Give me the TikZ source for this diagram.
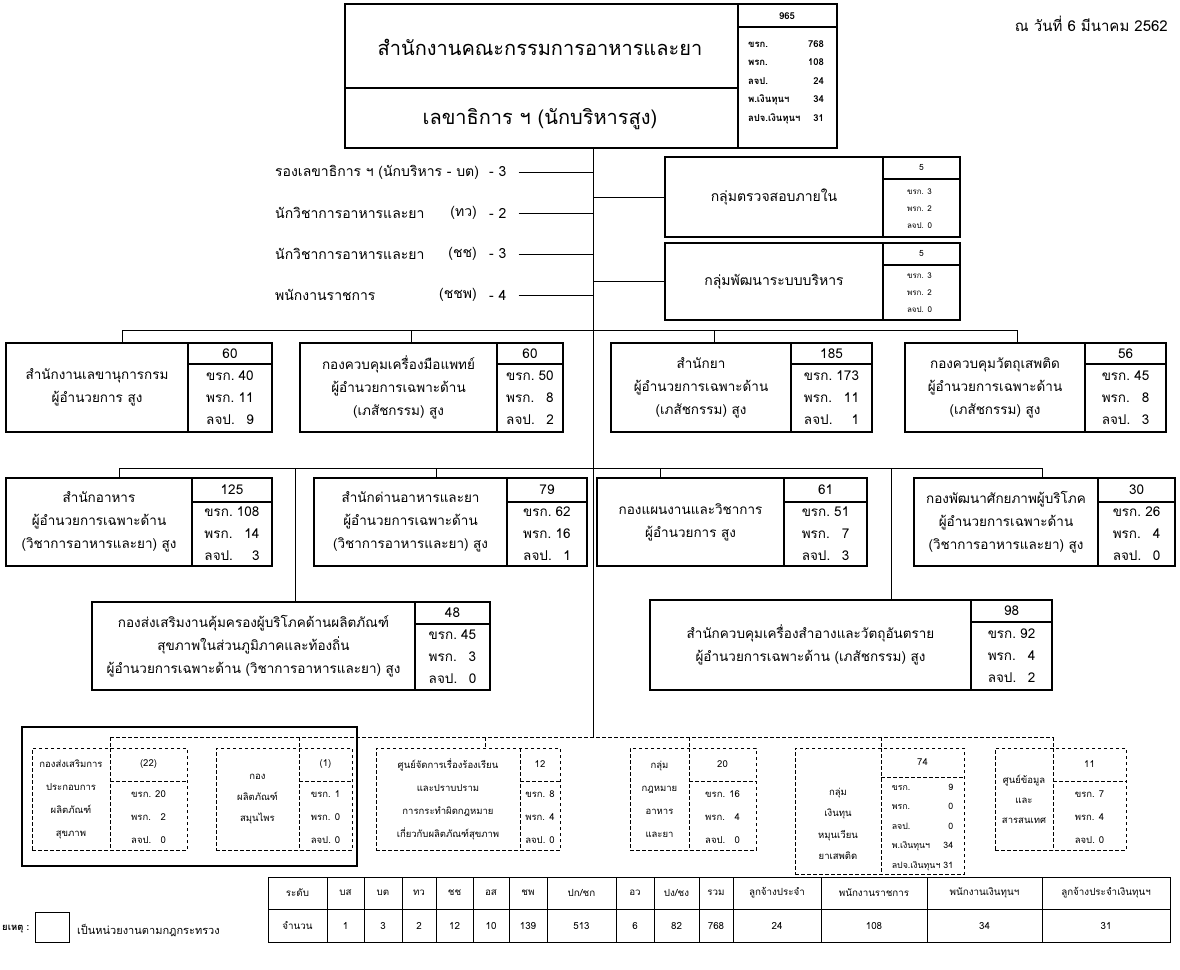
\documentclass[tikz,border=0pt]{standalone}
\usepackage{fontspec}
\setmainfont[Script=Thai]{Loma}
\usetikzlibrary{fit}
\newcommand\nr[1]{\begin{tabular}{@{}l@{\hspace{4pt}}r@{}}#1\end{tabular}}
\tikzset{
  boxframe/.style={draw, line width=1.1pt, inner sep=0pt},
  innerline/.style={line width=1.1pt},
  thickframe/.style={draw, line width=2.4pt, inner sep=0pt},
  dframe/.style={draw, line width=0.9pt, dash pattern=on 3.5pt off 2.5pt, inner sep=0pt},
  dline/.style={line width=0.9pt, dash pattern=on 3.5pt off 2.5pt},
  wire/.style={line width=1pt},
  nametext/.style={align=center, inner sep=0pt, font=\fontsize{13.5}{23}\selectfont},
  headtext/.style={inner sep=0pt, font=\fontsize{13.5}{16}\selectfont},
  rowtext/.style={inner sep=0pt, font=\fontsize{13.5}{16}\selectfont\def\arraystretch{1.4}},
  titletext/.style={inner sep=0pt, font=\fontsize{20}{24}\selectfont},
  tbnum/.style={inner sep=0pt, font=\bfseries\fontsize{9.5}{11}\selectfont},
  tbrows/.style={align=left, inner sep=0pt, text width=76pt, font=\bfseries\fontsize{9.5}{18.5}\selectfont},
  staff/.style={inner sep=0pt, font=\fontsize{14}{16}\selectfont},
  grows/.style={inner sep=0pt, font=\fontsize{8}{10}\selectfont\def\arraystretch{1.7}},
  dname/.style={align=center, inner sep=0pt, font=\fontsize{9.5}{23}\selectfont},
  dhead/.style={inner sep=0pt, font=\fontsize{9.5}{11}\selectfont},
  drow/.style={inner sep=0pt, font=\fontsize{9.5}{11}\selectfont\def\arraystretch{2.09}},
  tcell/.style={inner sep=0pt, font=\fontsize{9.8}{12}\selectfont},
  tline/.style={line width=0.9pt},
  datetext/.style={inner sep=0pt, font=\fontsize{15}{17}\selectfont},
  legtext/.style={inner sep=0pt, font=\fontsize{11}{13}\selectfont},
}
\newcommand\ubox[9]{%
  \node[boxframe, fit={(#2,#3)(#4,#5)}] (#1) {};
  \draw[innerline] (#6,#3) -- (#6,#5) (#6,#7) -- (#4,#7);
  \node[nametext] (#1-name) at ({(#2+#6)/2},{(#3+#5)/2}) {#8};
  \node[headtext] (#1-head) at ({(#6+#4)/2},{(#3+#7)/2}) {#9};
  \coordinate (#1-rows) at ({(#6+#4)/2},{(#7+#5)/2});
}
\newcommand\dbox[8]{%
  \node[dframe, fit={(#2,#3)(#4,#5)}] (#1) {};
  \draw[dline] (#6,#3) -- (#6,#5) (#6,#7) -- (#4,#7);
  \node[dhead] (#1-head) at ({(#6+#4)/2},{(#3+#7)/2}) {#8};
  \coordinate (#1-namec) at ({(#2+#6)/2},{(#3+#5)/2});
  \coordinate (#1-rows) at ({(#6+#4)/2},{(#7+#5)/2});
}
\begin{document}
\begin{tikzpicture}[x=1pt,y=-1pt]
\useasboundingbox (0,0) rectangle (1180,969);
\fill[white] (0,0) rectangle (1180,969);

% ---------- top box ----------
\node[boxframe, fit={(345,4)(837,148)}] (tb) {};
\draw[innerline] (738,4) -- (738,148) (345,88) -- (738,88) (738,27) -- (837,27);
\node[titletext] (tbt1) at (540,47) {สำนักงานคณะกรรมการอาหารและยา};
\node[titletext] (tbt2) at (540,119) {เลขาธิการ ฯ (นักบริหารสูง)};
\node[tbnum] (tbhead) at (787,16) {965};
\node[tbrows] (tbrows) at (786,82) {ขรก.\hfill 768\\พรก.\hfill 108\\ลจป.\hfill 24\\พ.เงินทุนฯ\hfill 34\\ลปจ.เงินทุนฯ\hfill 31};

\node[datetext, anchor=east] (date) at (1168,24) {ณ วันที่ 6 มีนาคม 2562};

% ---------- trunk ----------
\coordinate (trunkTop) at (593,148);
\coordinate (trunkBot) at (593,737);
\draw[wire] (trunkTop) -- (trunkBot);

% ---------- staff ----------
\node[staff, anchor=west] (st1) at (275,172) {รองเลขาธิการ ฯ (นักบริหาร - บต)};
\node[staff, anchor=west] (st1n) at (489,172) {- 3};
\node[staff, anchor=west] (st2) at (275,213) {นักวิชาการอาหารและยา};
\node[staff, anchor=east] (st2a) at (477,213) {(ทว)};
\node[staff, anchor=west] (st2n) at (489,213) {- 2};
\node[staff, anchor=west] (st3) at (275,254) {นักวิชาการอาหารและยา};
\node[staff, anchor=east] (st3a) at (477,254) {(ชช)};
\node[staff, anchor=west] (st3n) at (489,254) {- 3};
\node[staff, anchor=west] (st4) at (275,295) {พนักงานราชการ};
\node[staff, anchor=east] (st4a) at (477,295) {(ชชพ)};
\node[staff, anchor=west] (st4n) at (489,295) {- 4};
\foreach \s in {st1n,st2n,st3n,st4n}
  \draw[wire] ([xshift=12pt]\s.east) -- (\s -| trunkTop);

% ---------- groups ----------
\begin{scope}[nametext/.style={align=center, inner sep=0pt, font=\fontsize{14}{17}\selectfont},
              headtext/.style={inner sep=0pt, font=\fontsize{8.5}{10}\selectfont}]
\ubox{ga}{665}{157}{960}{237}{883}{179}{กลุ่มตรวจสอบภายใน}{5}
\ubox{gb}{665}{243}{960}{320}{883}{265}{กลุ่มพัฒนาระบบบริหาร}{5}
\end{scope}
\node[grows] (ga-r) at (ga-rows) {\nr{ขรก. 3\\พรก. 2\\ลจป. 0}};
\node[grows] (gb-r) at (gb-rows) {\nr{ขรก. 3\\พรก. 2\\ลจป. 0}};
\draw[wire] (ga.west) -- (ga.west -| trunkTop);
\draw[wire] (gb.west) -- (gb.west -| trunkTop);

% ---------- row 1 ----------
\ubox{b1}{6}{343}{272}{432}{188}{364}{สำนักงานเลขานุการกรม\\ผู้อำนวยการ สูง}{60}
\node[rowtext] (b1-r) at (b1-rows) {\nr{ขรก. & 40\\พรก. & 11\\ลจป. & 9}};
\ubox{b2}{300}{343}{563}{432}{497}{364}{กองควบคุมเครื่องมือแพทย์\\ผู้อำนวยการเฉพาะด้าน\\(เภสัชกรรม) สูง}{60}
\node[rowtext] (b2-r) at (b2-rows) {\nr{ขรก. & 50\\พรก. & 8\\ลจป. & 2}};
\ubox{b3}{611}{343}{872}{432}{791}{364}{สำนักยา\\ผู้อำนวยการเฉพาะด้าน\\(เภสัชกรรม) สูง}{185}
\node[rowtext] (b3-r) at (b3-rows) {\nr{ขรก. & 173\\พรก. & 11\\ลจป. & 1}};
\ubox{b4}{905}{343}{1166}{432}{1085}{364}{กองควบคุมวัตถุเสพติด\\ผู้อำนวยการเฉพาะด้าน\\(เภสัชกรรม) สูง}{56}
\node[rowtext] (b4-r) at (b4-rows) {\nr{ขรก. & 45\\พรก. & 8\\ลจป. & 3}};

\coordinate (r1L) at (122,330);
\coordinate (r1R) at (1017,330);
\coordinate (r1b) at (411,330);
\coordinate (r1c) at (714,330);
\draw[wire] (r1L) -- (r1R);
\draw[wire] (r1L) -- (r1L |- b1.north);
\draw[wire] (r1b) -- (r1b |- b2.north);
\draw[wire] (r1c) -- (r1c |- b3.north);
\draw[wire] (r1R) -- (r1R |- b4.north);

% ---------- row 2 ----------
\ubox{c1}{6}{478}{272}{566}{192}{502}{สำนักอาหาร\\ผู้อำนวยการเฉพาะด้าน\\(วิชาการอาหารและยา) สูง}{125}
\node[rowtext] (c1-r) at (c1-rows) {\nr{ขรก. & 108\\พรก. & 14\\ลจป. & 3}};
\ubox{c2}{314}{478}{587}{566}{507}{502}{สำนักด่านอาหารและยา\\ผู้อำนวยการเฉพาะด้าน\\(วิชาการอาหารและยา) สูง}{79}
\node[rowtext] (c2-r) at (c2-rows) {\nr{ขรก. & 62\\พรก. & 16\\ลจป. & 1}};
\ubox{c3}{597}{478}{867}{566}{784}{502}{กองแผนงานและวิชาการ\\ผู้อำนวยการ สูง}{61}
\node[rowtext] (c3-r) at (c3-rows) {\nr{ขรก. & 51\\พรก. & 7\\ลจป. & 3}};
\ubox{c4}{914}{478}{1175}{566}{1098}{502}{กองพัฒนาศักยภาพผู้บริโภค\\ผู้อำนวยการเฉพาะด้าน\\(วิชาการอาหารและยา) สูง}{30}
\node[rowtext] (c4-r) at (c4-rows) {\nr{ขรก. & 26\\พรก. & 4\\ลจป. & 0}};

\coordinate (r2L) at (119,468);
\coordinate (r2R) at (1042,468);
\coordinate (r2b) at (436,468);
\coordinate (r2c) at (660,468);
\coordinate (r2v1) at (295,468);
\coordinate (r2v2) at (891,468);
\draw[wire] (r2L) -- (r2R);
\draw[wire] (r2L) -- (r2L |- c1.north);
\draw[wire] (r2b) -- (r2b |- c2.north);
\draw[wire] (r2c) -- (r2c |- c3.north);
\draw[wire] (r2R) -- (r2R |- c4.north);

% ---------- row 3 ----------
\ubox{d1}{92}{602}{490}{690}{415}{624}{กองส่งเสริมงานคุ้มครองผู้บริโภคด้านผลิตภัณฑ์\\สุขภาพในส่วนภูมิภาคและท้องถิ่น\\ผู้อำนวยการเฉพาะด้าน (วิชาการอาหารและยา) สูง}{48}
\node[rowtext] (d1-r) at (d1-rows) {\nr{ขรก. & 45\\พรก. & 3\\ลจป. & 0}};
\ubox{d2}{650}{600}{1052}{690}{971}{622}{สำนักควบคุมเครื่องสำอางและวัตถุอันตราย\\ผู้อำนวยการเฉพาะด้าน (เภสัชกรรม) สูง}{98}
\node[rowtext] (d2-r) at (d2-rows) {\nr{ขรก. & 92\\พรก. & 4\\ลจป. & 2}};
\draw[wire] (r2v1) -- (r2v1 |- d1.north);
\draw[wire] (r2v2) -- (r2v2 |- d2.north);

% ---------- dashed units ----------
\node[thickframe, fit={(22,727)(357,866)}] (grp) {};
\dbox{e1}{32}{748}{187}{850}{110}{781}{(22)}
\node[dname] (e1-name) at (e1-namec) {กองส่งเสริมการ\\ประกอบการ\\ผลิตภัณฑ์\\สุขภาพ};
\node[drow] (e1-r) at (e1-rows) {\nr{ขรก. & 20\\พรก. & 2\\ลจป. & 0}};
\dbox{e2}{216}{748}{352}{850}{299}{781}{(1)}
\node[dname, font=\fontsize{9.5}{21}\selectfont] (e2-name) at (e2-namec) {กอง\\ผลิตภัณฑ์\\สมุนไพร};
\node[drow] (e2-r) at (e2-rows) {\nr{ขรก. & 1\\พรก. & 0\\ลจป. & 0}};
\dbox{e3}{376}{748}{560}{850}{520}{781}{12}
\node[dname] (e3-name) at (e3-namec) {ศูนย์จัดการเรื่องร้องเรียน\\และปราบปราม\\การกระทำผิดกฎหมาย\\เกี่ยวกับผลิตภัณฑ์สุขภาพ};
\node[drow] (e3-r) at (e3-rows) {\nr{ขรก. & 8\\พรก. & 4\\ลจป. & 0}};
\dbox{e4}{630}{748}{756}{850}{689}{781}{20}
\node[dname] (e4-name) at (e4-namec) {กลุ่ม\\กฎหมาย\\อาหาร\\และยา};
\node[drow] (e4-r) at (e4-rows) {\nr{ขรก. & 16\\พรก. & 4\\ลจป. & 0}};
\dbox{e5}{795}{748}{964}{874}{881}{777}{74}
\node[dname, font=\fontsize{9.5}{21.5}\selectfont] (e5-name) at ([yshift=-13pt]e5-namec) {กลุ่ม\\เงินทุน\\หมุนเวียน\\ยาเสพติด};
\node[drow, font=\fontsize{8.8}{11}\selectfont\def\arraystretch{1.77}] (e5-r) at (e5-rows) {\begin{tabular}{@{}l@{\hspace{3pt}}r@{}}ขรก. & 9\\พรก. & 0\\ลจป. & 0\\พ.เงินทุนฯ & 34\\ลปจ.เงินทุนฯ & 31\end{tabular}};
\dbox{e6}{995}{748}{1126}{850}{1053}{781}{11}
\node[dname, font=\fontsize{9.5}{20}\selectfont] (e6-name) at (e6-namec) {ศูนย์ข้อมูล\\และ\\สารสนเทศ};
\node[drow] (e6-r) at (e6-rows) {\nr{ขรก. & 7\\พรก. & 4\\ลจป. & 0}};

\coordinate (dL) at (110,737);
\coordinate (dR) at (1053,737);
\draw[dline] (dL) -- (dR);
\foreach \e/\xx in {e1/110,e2/299,e3/485,e4/689,e5/881,e6/1053}{
  \coordinate (tk\e) at (\xx,737);
  \draw[dline] (tk\e) -- (tk\e |- \e.north);
}

% ---------- table ----------
\draw[tline] (268,877) rectangle (1170,942);
\draw[tline] (268,909) -- (1170,909);
\foreach \xx in {327,364,402,436,473,509,547,616,654,699,733,821,927,1042}
  \draw[tline] (\xx,877) -- (\xx,942);
\foreach \a/\b/\h/\v [count=\i] in {268/327/ระดับ/จำนวน, 327/364/บส/1, 364/402/บต/3, 402/436/ทว/2, 436/473/ชช/12, 473/509/อส/10, 509/547/ชพ/139, 547/616/{ปก/ชก}/513, 616/654/อว/6, 654/699/{ปง/ชง}/82, 699/733/รวม/768, 733/821/ลูกจ้างประจำ/24, 821/927/พนักงานราชการ/108, 927/1042/พนักงานเงินทุนฯ/34, 1042/1170/ลูกจ้างประจำเงินทุนฯ/31}{
  \node[tcell] (th\i) at ({(\a+\b)/2},893) {\h};
  \node[tcell] (tv\i) at ({(\a+\b)/2},926) {\v};
}

% ---------- legend ----------
\node[legtext, font=\bfseries\fontsize{9.5}{12}\selectfont, anchor=west] (legl) at (2,929) {ยเหตุ :};
\node[draw, line width=0.9pt, minimum width=34pt, minimum height=30pt, inner sep=0pt] (legbox) at (52,927) {};
\node[legtext, anchor=west] (legr) at (77,931) {เป็นหน่วยงานตามกฎกระทรวง};
\end{tikzpicture}
\end{document}
